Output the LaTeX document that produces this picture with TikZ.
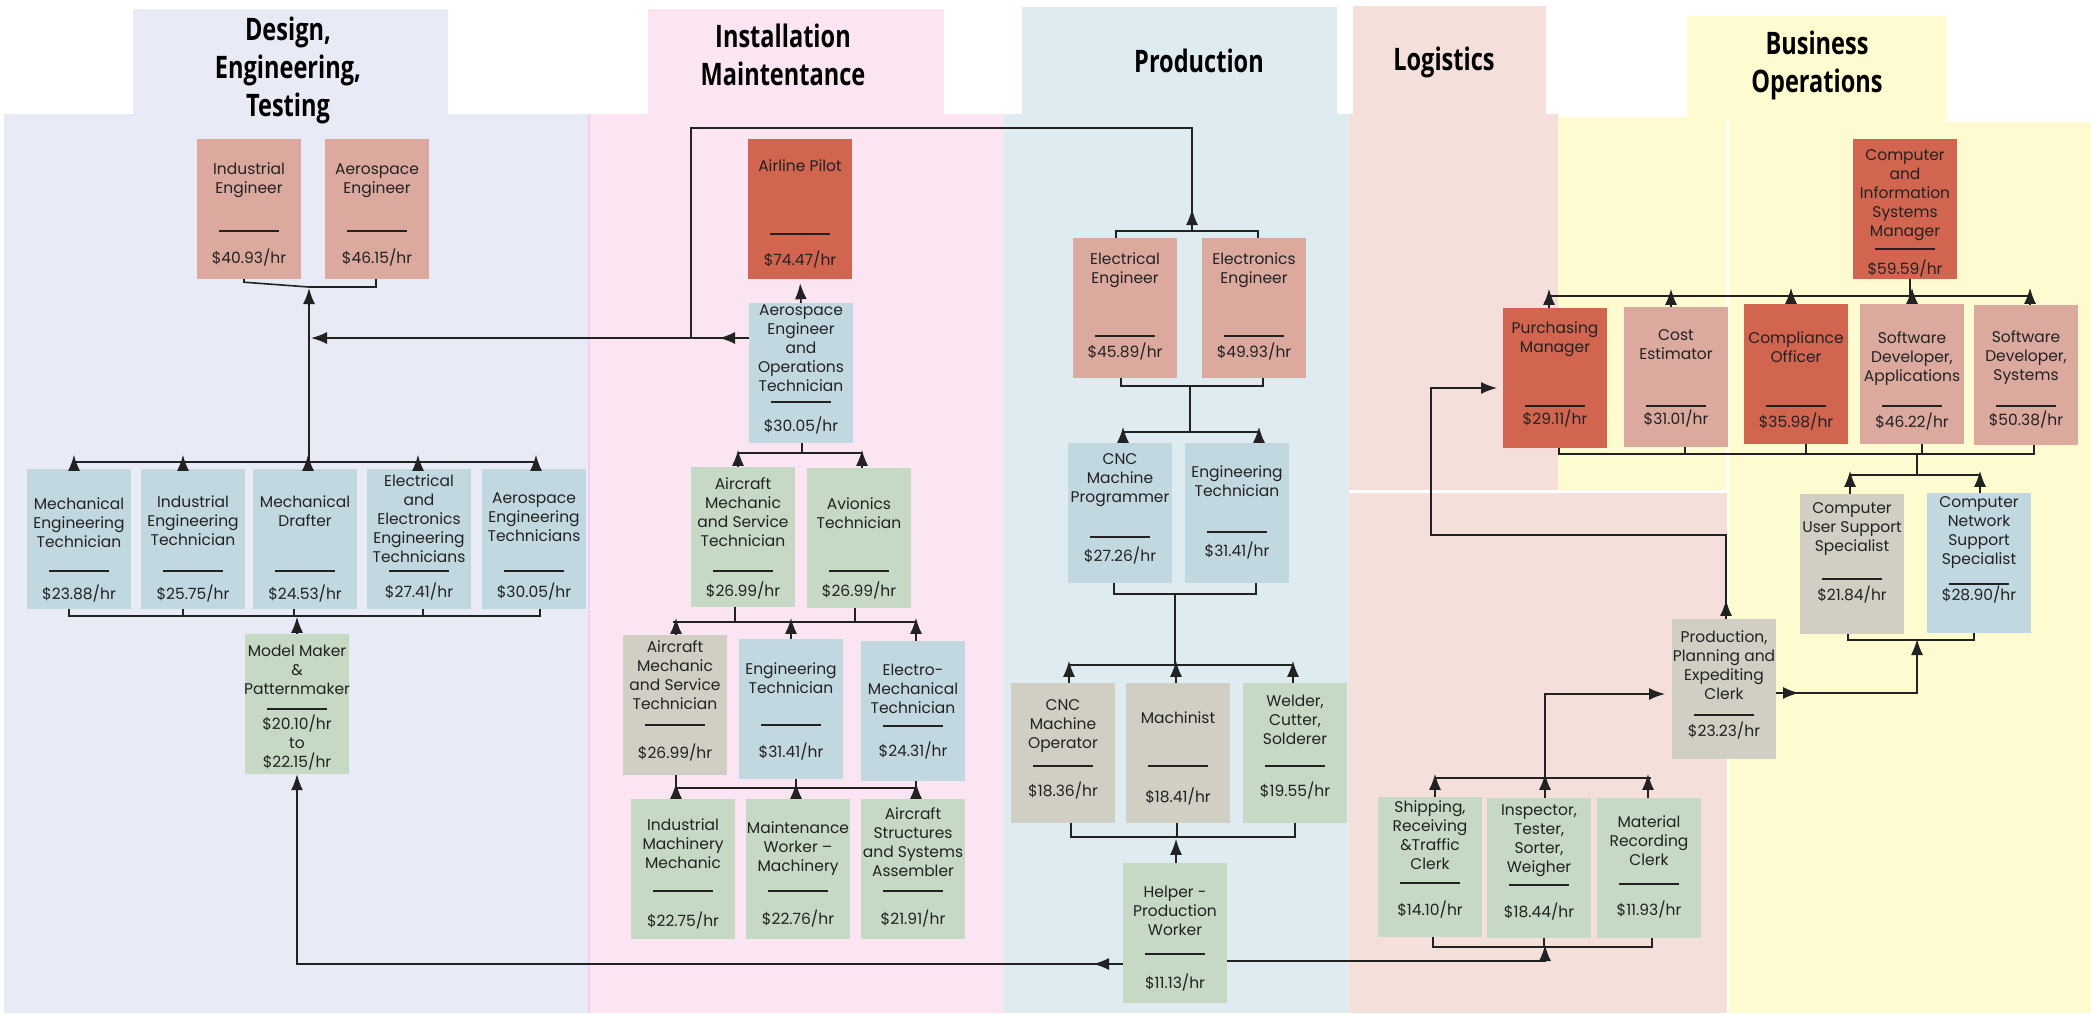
\documentclass[tikz,border=0pt]{standalone}
\usepackage{fontspec}
\setmainfont{Poppins}
\newfontfamily\hdrfont[FakeStretch=0.76]{Open Sans}
\usetikzlibrary{arrows.meta}
\definecolor{designbg}{HTML}{E8EBF5}
\definecolor{instbg}{HTML}{FCE5F2}
\definecolor{prodbg}{HTML}{DEEBF0}
\definecolor{logbg}{HTML}{F4DFDA}
\definecolor{busbg}{HTML}{FFFBD1}
\definecolor{darkred}{HTML}{D2654F}
\definecolor{salmon}{HTML}{DCA99F}
\definecolor{bluebox}{HTML}{C2D8E0}
\definecolor{greenbox}{HTML}{C6D9C4}
\definecolor{greybox}{HTML}{D1CEC4}
\definecolor{inkc}{HTML}{222222}
\tikzset{
  jobbox/.style={minimum width=104pt, minimum height=140pt, inner sep=0pt, draw=none},
  jobtext/.style={font=\fontsize{15.5}{19}\selectfont, text=inkc, align=center, inner sep=0pt},
  jobrule/.style={line width=1.4pt, inkc},
  hdr/.style={font=\hdrfont\bfseries\fontsize{31}{38}\selectfont, align=center, inner sep=0pt},
  ln/.style={line width=1.6pt, inkc},
  arr/.style={line width=1.6pt, inkc, -{Latex[length=16pt,width=12pt]}}
}
\newcommand\job[9]{%
  \node[jobbox, fill=#4] (#1) at (#2,#3+70) {};
  \node[jobtext, anchor=north] (#1-t) at (#2,#6-8) {\strut #5};
  \draw[jobrule] (#2-30,#7) -- (#2+30,#7);
  \node[jobtext, anchor=north] (#1-w) at (#2,#8-8) {\strut #9};
}
\begin{document}
\begin{tikzpicture}[x=1pt,y=-1pt]
\useasboundingbox (0,0) rectangle (2091,1013);
\fill[white] (0,0) rectangle (2091,1013);
% bands
\fill[designbg] (4,114) rectangle (589,1013);
\fill[designbg] (133,9) rectangle (448,114);
\fill[instbg] (589,114) rectangle (1004,1013);
\fill[instbg] (648,9) rectangle (944,114);
\draw[line width=2pt, color=instbg!80!magenta!60!designbg] (589,114) -- (589,1013);
\fill[prodbg] (1004,114) rectangle (1349,1013);
\fill[prodbg] (1022,7) rectangle (1337,114);
\fill[logbg] (1349,114) rectangle (1558,490);
\fill[logbg] (1353,6) rectangle (1546,114);
\fill[logbg] (1349,493) rectangle (1727,1013);
\fill[busbg] (1558,117) rectangle (1726,490);
\fill[busbg] (1687,16) rectangle (1947,122);
\fill[busbg] (1729,122) rectangle (2091,1013);
% headers
\node[hdr] (hdesign) at (288,70) {Design,\\Engineering,\\Testing};
\node[hdr] (hinst) at (783,55) {Installation\\Maintentance};
\node[hdr] (hprod) at (1199,61) {Production};
\node[hdr] (hlog) at (1444,62) {Logistics};
\node[hdr] (hbus) at (1817,65) {Business\\Operations};
% Design boxes
\job{indeng}{249}{139}{salmon}{Industrial\\Engineer}{169}{231}{257}{\$40.93/hr}
\job{aeroeng}{377}{139}{salmon}{Aerospace\\Engineer}{169}{231}{257}{\$46.15/hr}
\job{met}{79}{469}{bluebox}{Mechanical\\Engineering\\Technician}{504}{571}{593}{\$23.88/hr}
\job{iet}{193}{469}{bluebox}{Industrial\\Engineering\\Technician}{502}{571}{593}{\$25.75/hr}
\job{md}{305}{469}{bluebox}{Mechanical\\Drafter}{502}{571}{593}{\$24.53/hr}
\job{eeet}{419}{469}{bluebox}{Electrical\\and\\Electronics\\Engineering\\Technicians}{481}{571}{591}{\$27.41/hr}
\job{aet}{534}{469}{bluebox}{Aerospace\\Engineering\\Technicians}{498}{571}{591}{\$30.05/hr}
\job{mm}{297}{634}{greenbox}{Model Maker\\\&\\Patternmaker}{651}{709}{723}{\$20.10/hr\\to\\\$22.15/hr}
% Installation boxes
\job{pilot}{800}{139}{darkred}{Airline Pilot}{166}{234}{259}{\$74.47/hr}
\job{aeot}{801}{303}{bluebox}{Aerospace\\Engineer\\and\\Operations\\Technician}{310}{402}{425}{\$30.05/hr}
\job{amst1}{743}{467}{greenbox}{Aircraft\\Mechanic\\and Service\\Technician}{484}{571}{590}{\$26.99/hr}
\job{avion}{859}{468}{greenbox}{Avionics\\Technician}{504}{571}{590}{\$26.99/hr}
\job{amst2}{675}{635}{greybox}{Aircraft\\Mechanic\\and Service\\Technician}{647}{725}{752}{\$26.99/hr}
\job{engt1}{791}{639}{bluebox}{Engineering\\Technician}{669}{725}{751}{\$31.41/hr}
\job{emt}{913}{641}{bluebox}{Electro-\\Mechanical\\Technician}{670}{726}{750}{\$24.31/hr}
\job{imm}{683}{799}{greenbox}{Industrial\\Machinery\\Mechanic}{825}{891}{920}{\$22.75/hr}
\job{mwm}{798}{799}{greenbox}{Maintenance\\Worker –\\Machinery}{828}{891}{918}{\$22.76/hr}
\job{assa}{913}{799}{greenbox}{Aircraft\\Structures\\and Systems\\Assembler}{814}{891}{918}{\$21.91/hr}
% Production boxes
\job{elec}{1125}{238}{salmon}{Electrical\\Engineer}{259}{336}{351}{\$45.89/hr}
\job{elect}{1254}{238}{salmon}{Electronics\\Engineer}{259}{336}{351}{\$49.93/hr}
\job{cncp}{1120}{443}{bluebox}{CNC\\Machine\\Programmer}{459}{537}{555}{\$27.26/hr}
\job{engt2}{1237}{443}{bluebox}{Engineering\\Technician}{472}{532}{550}{\$31.41/hr}
\job{cnco}{1063}{683}{greybox}{CNC\\Machine\\Operator}{705}{766}{790}{\$18.36/hr}
\job{mach}{1178}{683}{greybox}{Machinist}{718}{766}{796}{\$18.41/hr}
\job{weld}{1295}{683}{greenbox}{Welder,\\Cutter,\\Solderer}{701}{766}{790}{\$19.55/hr}
\job{helper}{1175}{863}{greenbox}{Helper -\\Production\\Worker}{892}{954}{982}{\$11.13/hr}
% Logistics boxes
\job{ship}{1430}{797}{greenbox}{Shipping,\\Receiving\\\&Traffic\\Clerk}{807}{883}{909}{\$14.10/hr}
\job{insp}{1539}{798}{greenbox}{Inspector,\\Tester,\\Sorter,\\Weigher}{810}{885}{911}{\$18.44/hr}
\job{matrec}{1649}{798}{greenbox}{Material\\Recording\\Clerk}{822}{884}{909}{\$11.93/hr}
\job{clerk}{1724}{619}{greybox}{Production,\\Planning and\\Expediting\\Clerk}{637}{715}{730}{\$23.23/hr}
% Business boxes
\job{purch}{1555}{308}{darkred}{Purchasing\\Manager}{328}{406}{418}{\$29.11/hr}
\job{cost}{1676}{307}{salmon}{Cost\\Estimator}{335}{406}{418}{\$31.01/hr}
\job{compl}{1796}{304}{darkred}{Compliance\\Officer}{338}{406}{421}{\$35.98/hr}
\job{cism}{1905}{139}{darkred}{Computer\\and\\Information\\Systems\\Manager}{155}{249}{268}{\$59.59/hr}
\job{sda}{1912}{304}{salmon}{Software\\Developer,\\Applications}{338}{406}{421}{\$46.22/hr}
\job{sds}{2026}{305}{salmon}{Software\\Developer,\\Systems}{337}{406}{419}{\$50.38/hr}
\job{cuss}{1852}{494}{greybox}{Computer\\User Support\\Specialist}{508}{579}{594}{\$21.84/hr}
\job{cnss}{1979}{493}{bluebox}{Computer\\Network\\Support\\Specialist}{502}{584}{594}{\$28.90/hr}

% ---------- connectors: Design ----------
\coordinate (engbr) at (309,287);
\draw[ln] ([xshift=-5pt]indeng.south) -- ++(0,3) -- (engbr) -- ([xshift=-1pt]aeroeng.south |- engbr) -- ([xshift=-1pt]aeroeng.south);
\coordinate (techL) at (74,462);
\coordinate (techR) at (536,462);
\coordinate (techM) at (309,462);
\draw[ln] (techL) -- (techR);
\draw[arr] (techM) -- ([yshift=-1pt]engbr);
\draw[arr] ([xshift=-5pt]met.north) -- ++(0,-14);
\draw[arr] ([xshift=-10pt]iet.north) -- ++(0,-14);
\draw[arr] ([xshift=3pt]md.north) -- ++(0,-14);
\draw[arr] ([xshift=-1pt]eeet.north) -- ++(0,-14);
\draw[arr] ([xshift=2pt]aet.north) -- ++(0,-14);
\coordinate (tbL) at (69,616);
\coordinate (tbR) at (540,616);
\draw[ln] ([xshift=-10pt]met.south) -- (tbL) -- (tbR) -- ([xshift=6pt]aet.south);
\draw[ln] ([xshift=-10pt]iet.south) -- ++(0,7);
\draw[ln] ([xshift=-11pt]md.south) -- ++(0,7);
\draw[ln] ([xshift=4pt]eeet.south) -- ++(0,7);
\draw[arr] (mm.north) -- ++(0,-17);
% Aerospace eng & ops tech -> design engineers
\coordinate (aW) at (749,338);
\coordinate (aJ) at (691,338);
\draw[arr] (aW) -- (311,338);
\draw[arr] (aW) -- ++(-30,0);
% Electrical engineers -> over the top -> design engineers
\coordinate (eeT) at (1192,231);
\draw[ln] (eeT) -- (1192,128) -- (691,128) -- (aJ);
\draw[arr] (eeT) -- ++(0,-22);
% Installation
\draw[arr, shorten >=4pt] (aeot.north) -- (pilot.south);
\coordinate (aeB) at (802,453);
\draw[ln] ([xshift=1pt]aeot.south) -- (aeB);
\draw[ln] (738,453) -- (863,453);
\draw[arr] ([xshift=-5pt]amst1.north) -- ++(0,-17);
\draw[arr] ([xshift=3pt]avion.north) -- ++(0,-18);
\draw[ln] ([xshift=-8pt]amst1.south) -- ++(0,15);
\draw[ln] ([xshift=-4pt]avion.south) -- ++(0,14);
\draw[ln] (673,622) -- (916,622);
\draw[arr] ([xshift=1pt]amst2.north) -- ++(0,-17);
\draw[arr] (engt1.north) -- ++(0,-21);
\draw[arr] ([xshift=3pt]emt.north) -- ++(0,-23);
\draw[ln] ([xshift=1pt]amst2.south) -- ++(0,13);
\draw[ln] ([xshift=5pt]engt1.south) -- ++(0,9);
\draw[ln] ([xshift=3pt]emt.south) -- ++(0,7);
\draw[ln] (676,788) -- (916,788);
\draw[arr] ([xshift=-7pt]imm.north) -- ++(0,-16);
\draw[arr] ([xshift=-2pt]mwm.north) -- ++(0,-16);
\draw[arr] ([xshift=3pt]assa.north) -- ++(0,-16);
% Production
\draw[ln] ([xshift=-9pt]elec.north) -- (1116,231) -- (1258,231) -- ([xshift=4pt]elect.north);
\draw[ln] ([xshift=-4pt]elec.south) -- (1121,386) -- (1263,386) -- ([xshift=9pt]elect.south);
\draw[ln] (1190,386) -- (1190,432);
\draw[ln] (1123,432) -- (1259,432);
\draw[arr] ([xshift=3pt]cncp.north) -- ++(0,-16);
\draw[arr] ([xshift=22pt]engt2.north) -- ++(0,-16);
\draw[ln] ([xshift=-6pt]cncp.south) -- (1114,594) -- (1256,594) -- ([xshift=19pt]engt2.south);
\draw[ln] (1175,594) -- (1175,665);
\draw[ln] (1069,665) -- (1293,665);
\draw[arr] ([xshift=6pt]cnco.north) -- ++(0,-22);
\draw[arr] ([xshift=-2pt]mach.north) -- ++(0,-22);
\draw[arr] ([xshift=-2pt]weld.north) -- ++(0,-22);
\draw[ln] ([xshift=8pt]cnco.south) -- (1071,837) -- (1295,837) -- (weld.south);
\draw[ln] ([xshift=-1pt]mach.south) -- ++(0,14);
\draw[arr] ([xshift=1pt]helper.north) -- ++(0,-24);
% Helper -> model maker
\coordinate (hW) at (1123,964);
\draw[arr] (hW) -- (hW -| mm.south) -- (mm.south);
\draw[arr] (hW) -- ++(-30,0);
% Helper -> inspector group
\coordinate (hE) at (1227,961);
\draw[arr] (hE) -- (1545,961) -- (1545,945);
% Logistics
\draw[ln] ([xshift=3pt]ship.south) -- (1433,947) -- (1652,947) -- ([xshift=3pt]matrec.south);
\draw[ln] ([xshift=5pt]insp.south) -- ++(0,9);
\draw[ln] (1435,778) -- (1651,778);
\draw[arr] ([xshift=5pt]ship.north) -- ++(0,-23);
\draw[arr] ([xshift=6pt]insp.north) -- ++(0,-24);
\draw[arr] ([xshift=-1pt]matrec.north) -- ++(0,-24);
\coordinate (lgT) at (1545,778);
\draw[arr] (lgT) -- (1545,694) -- (1665,694);
% Clerk -> purchasing manager
\draw[arr] ([xshift=2pt]clerk.north) -- (1726,535) -- (1431,535) -- (1431,388) -- (1497,388);
\draw[arr] ([xshift=2pt]clerk.north) -- ++(0,-19);
% Clerk -> computer support
\coordinate (cE) at (1776,693);
\draw[arr] (cE) -- (1917,693) -- (1917,639);
\draw[arr] (cE) -- ++(23,0);
\draw[ln] ([xshift=-4pt]cuss.south) -- (1848,640) -- (1974,640) -- ([xshift=-5pt]cnss.south);
% Business
\draw[ln] (1549,296) -- (2030,296);
\draw[ln] ([xshift=5pt]cism.south) -- (1910,296);
\draw[arr] ([xshift=-6pt]purch.north) -- ++(0,-19);
\draw[arr] ([xshift=-5pt]cost.north) -- ++(0,-18);
\draw[arr] ([xshift=-5pt]compl.north) -- ++(0,-16);
\draw[arr] (sda.north) -- ++(0,-16);
\draw[arr] ([xshift=4pt]sds.north) -- ++(0,-17);
\draw[ln] ([xshift=4pt]purch.south) -- (1559,454) -- (2034,454) -- ([xshift=8pt]sds.south);
\draw[ln] ([xshift=9pt]cost.south) -- ++(0,7);
\draw[ln] ([xshift=10pt]compl.south) -- ++(0,10);
\draw[ln] ([xshift=10pt]sda.south) -- ++(0,10);
\draw[ln] (1917,454) -- (1917,475);
\draw[ln] (1850,475) -- (1980,475);
\draw[arr] ([xshift=-2pt]cuss.north) -- ++(0,-23);
\draw[arr] ([xshift=1pt]cnss.north) -- ++(0,-22);
\end{tikzpicture}
\end{document}
